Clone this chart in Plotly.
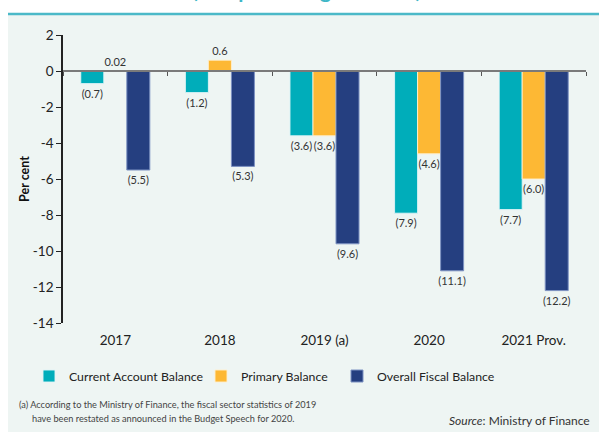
import plotly.graph_objects as go

categories = ["2017", "2018", "2019 (a)", "2020", "2021 Prov."]
current_account = [-0.7, -1.2, -3.6, -7.9, -7.7]
primary_balance = [0.02, 0.6, -3.6, -4.6, -6.0]
overall_fiscal = [-5.5, -5.3, -9.6, -11.1, -12.2]
y_tickvals = [2, 0, -2, -4, -6, -8, -10, -12, -14]
y_ticktext = ["2", "0", "-2", "-4", "-6", "-8", "-10", "-12", "-14"]

W, H = 599, 432
L, R, T, B = 63, 13, 35, 109
PW, PH = W - L - R, H - T - B


def px(x):
    return (x - L) / PW


def py(y):
    return (H - B - y) / PH


def fmt(v):
    return f"({abs(v):.1f})" if v < 0 else f"{v:g}"


FONT = "Lato, 'Noto Sans', sans-serif"
series = [
    ("Current Account Balance", current_account, "#00adba", "rgba(225,245,247,0.9)"),
    ("Primary Balance", primary_balance, "#fdb834", "rgba(255,240,205,0.9)"),
    ("Overall Fiscal Balance", overall_fiscal, "#253f80", "#7d92c2"),
]

fig = go.Figure()
legend_x = [43, 215, 351]  # left edge of legend symbol (px)
for i, (name, vals, col, edge) in enumerate(series):
    fig.add_trace(go.Bar(
        x=categories, y=vals, name=name,
        marker=dict(color=col, line=dict(color=edge, width=1)),
        text=[fmt(v) for v in vals], textposition="outside",
        textfont=dict(size=11, color="#333333", family=FONT),
        constraintext="none",
        cliponaxis=False,
        legend="legend" if i == 0 else f"legend{i+1}",
    ))

fig.add_trace(go.Scatter(x=categories, y=[None] * len(categories), xaxis="x2",
                         showlegend=False, hoverinfo="skip"))

legend_common = dict(orientation="h", font=dict(size=12.3, color="#222222", family=FONT),
                     bgcolor="rgba(0,0,0,0)", yanchor="middle", xanchor="left",
                     itemwidth=30)
lay_legends = {}
for i, lx in enumerate(legend_x):
    key = "legend" if i == 0 else f"legend{i+1}"
    lay_legends[key] = dict(legend_common, x=px(lx - 14), y=py(376))

fig.update_layout(
    width=W, height=H,
    margin=dict(l=L, r=R, t=T, b=B, autoexpand=False),
    paper_bgcolor="white", plot_bgcolor="rgba(0,0,0,0)",
    barmode="group", bargap=0.34, bargroupgap=0,
    font=dict(family=FONT, color="#222222"),
    **lay_legends,
    xaxis=dict(type="category", showline=False, ticks="outside", ticklen=5,
               tickcolor="rgba(0,0,0,0)", tickfont=dict(size=13.5, color="#222222"),
               showgrid=False, zeroline=False, automargin=False),
    xaxis2=dict(type="category", matches="x", overlaying="x", anchor="free",
                position=14 / 16,
                showticklabels=False, showline=True, linecolor="#7a7a7a", linewidth=1.5,
                ticks="outside", tickson="boundaries", ticklen=4, tickcolor="#555555",
                tickwidth=1.2, showgrid=False, zeroline=False),
    yaxis=dict(range=[-14, 2], tickvals=y_tickvals, ticktext=y_ticktext,
               showline=True, linecolor="#222222", linewidth=1.5,
               ticks="outside", ticklen=5, tickcolor="#222222", automargin=False,
               tickfont=dict(size=13.5, color="#222222"), showgrid=False, zeroline=False,
               title=dict(text="<b>Per cent</b>", font=dict(size=12.5, color="#111111"),
                          standoff=0)),
    shapes=[
        dict(type="rect", xref="paper", yref="paper", x0=px(8), x1=px(W + 5),
             y0=py(H + 5), y1=py(15), fillcolor="#eef5f3", line=dict(width=0), layer="below"),
        dict(type="line", xref="paper", yref="paper", x0=px(8), x1=px(W + 5),
             y0=py(14), y1=py(14), line=dict(color="#4bb9c8", width=2.5)),
    ],
    annotations=[
        dict(text="<b>(as a percentage of GDP)</b>", xref="paper", yref="paper",
             x=px(306), y=py(4), xanchor="center", yanchor="bottom", showarrow=False,
             font=dict(size=21, color="#3fb7c7", family=FONT)),
        dict(text="(a) According to the Ministry of Finance, the fiscal sector statistics of 2019",
             xref="paper", yref="paper", x=px(17), y=py(404), xanchor="left", yanchor="middle",
             showarrow=False, font=dict(size=9.2, color="#444444", family=FONT)),
        dict(text="have been restated as announced in the Budget Speech for 2020.",
             xref="paper", yref="paper", x=px(30), y=py(418), xanchor="left", yanchor="middle",
             showarrow=False, font=dict(size=9.2, color="#444444", family=FONT)),
        dict(text="<i>Source</i>: Ministry of Finance", xref="paper", yref="paper",
             x=px(592), y=py(420), xanchor="right", yanchor="middle", showarrow=False,
             font=dict(size=12, color="#333333", family=FONT)),
    ],
)

fig.write_html("out.html", config={"displayModeBar": False},
               post_script="document.body.style.margin='0';")
